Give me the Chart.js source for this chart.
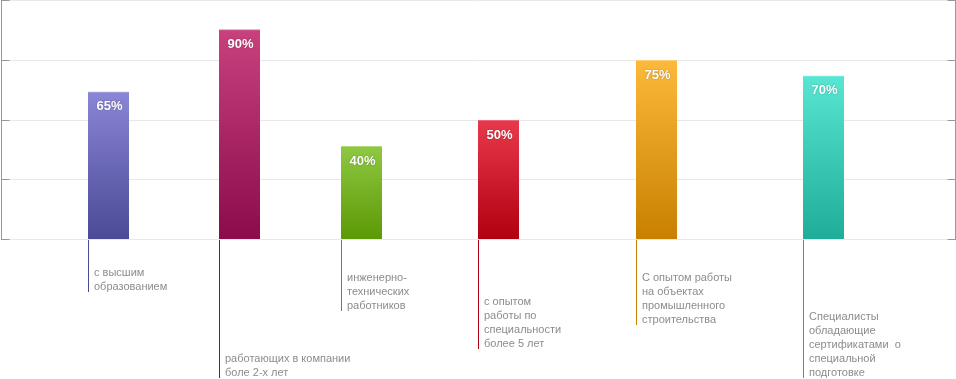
<!DOCTYPE html>
<html><head><meta charset="utf-8">
<script src="https://cdn.jsdelivr.net/npm/chart.js@4/dist/chart.umd.min.js"></script>
<style>html,body{margin:0;padding:0;background:#fff;overflow:hidden}#wrap{width:956px;height:379px;position:relative}</style>
</head><body><div id="wrap"><canvas id="c" width="956" height="379"></canvas></div>
<script>
// ---- data ----
const categories = [
  ["с высшим", "образованием"],
  ["работающих в компании", "боле 2-х лет"],
  ["инженерно-", "технических", "работников"],
  ["с опытом", "работы по", "специальности", "более 5 лет"],
  ["С опытом работы", "на объектах", "промышленного", "строительства"],
  ["Специалисты", "обладающие", "сертификатами  о", "специальной", "подготовке"]
];
const values = [61.8, 87.8, 39, 50, 75, 68.5];          // bar heights as drawn (% of axis)
const valueLabels = ["65%", "90%", "40%", "50%", "75%", "70%"];
const yTicks = [0, 25, 50, 75, 100];

// ---- style / layout ----
const topColors = ["#8a86d6", "#c8417f", "#8fc842", "#e8394c", "#fcb93a", "#58e6d3"];
const bottomColors = ["#4a4a96", "#8b0b4b", "#5b9905", "#b1000f", "#c98000", "#1fac98"];
const highlightColors = ["#aeabe4", "#d97aa6", "#b0d97a", "#ef7884", "#fdcf78", "#8aeee0"];
const slotCenters = [107, 238, 360, 497, 655, 822];      // horizontal slots on the x axis
const leaderDrops = [52, 138, 71, 109, 85, 138];         // leader line length below baseline

function barGradient(ctx) {
  const chart = ctx.chart;
  const i = ctx.dataIndex;
  if (!chart.chartArea || ctx.type !== 'data') return bottomColors[i];
  const y = chart.scales.y;
  const top = y.getPixelForValue(values[i]);
  const bottom = y.getPixelForValue(0);
  const g = chart.ctx.createLinearGradient(0, top, 0, bottom);
  g.addColorStop(0, topColors[i]);
  g.addColorStop(1, bottomColors[i]);
  return g;
}

const decorPlugin = {
  id: 'decor',
  afterDatasetsDraw(chart) {
    const c = chart.ctx;
    const y = chart.scales.y;
    const area = chart.chartArea;
    c.save();
    // inward tick marks on left and right axes
    c.strokeStyle = '#999999';
    c.lineWidth = 1;
    yTicks.forEach(v => {
      const py = Math.floor(y.getPixelForValue(v)) + 0.5;
      c.beginPath();
      c.moveTo(area.left, py); c.lineTo(area.left + 8, py);
      c.moveTo(area.right, py); c.lineTo(area.right - 8, py);
      c.stroke();
    });
    const meta = chart.getDatasetMeta(0);
    const base = y.getPixelForValue(0);
    meta.data.forEach((bar, i) => {
      const left = Math.round(bar.x - bar.width / 2) + 0.5;
      // leader line
      c.strokeStyle = bottomColors[i];
      c.beginPath();
      c.moveTo(left, Math.round(base));
      c.lineTo(left, Math.round(base) + leaderDrops[i]);
      c.stroke();
      // category text
      const lines = categories[i];
      c.fillStyle = '#8c8c8c';
      c.font = "11px 'Liberation Sans', Arial, sans-serif";
      c.textAlign = 'left';
      c.textBaseline = 'middle';
      const lastY = Math.round(base) + leaderDrops[i] - 5.5;
      lines.forEach((t, k) => {
        c.fillText(t, left + 5.5, lastY - (lines.length - 1 - k) * 14);
      });
      // value label
      c.save();
      c.font = "bold 13px 'Liberation Sans', Arial, sans-serif";
      c.textAlign = 'center';
      c.fillStyle = '#ffffff';
      c.shadowColor = 'rgba(0,0,0,0.35)';
      c.shadowBlur = 1.5;
      c.fillText(valueLabels[i], bar.x + 1, bar.y + 15);
      c.restore();
    });
    c.restore();
  }
};

new Chart(document.getElementById('c'), {
  type: 'bar',
  data: {
    datasets: [{
      data: values.map((v, i) => ({ x: slotCenters[i], y: v })),
      backgroundColor: barGradient,
      borderColor: highlightColors,
      borderWidth: { top: 1, left: 0, right: 0, bottom: 0 },
      borderSkipped: 'start',
      barThickness: 41
    }]
  },
  options: {
    responsive: false,
    animation: false,
    devicePixelRatio: 1,
    layout: { padding: { left: 1.5, right: 0.5, top: 0.5, bottom: 139.5 } },
    plugins: { legend: { display: false }, tooltip: { enabled: false } },
    scales: {
      x: { type: 'linear', min: 0, max: 954, offset: false, display: false },
      y: {
        min: 0, max: 100,
        afterBuildTicks: s => { s.ticks = yTicks.map(v => ({ value: v })); },
        ticks: { display: false },
        grid: { color: '#e8e8e8', drawTicks: false },
        border: { display: true, color: '#999999' }
      },
      y2: {
        position: 'right', min: 0, max: 100,
        ticks: { display: false },
        grid: { drawOnChartArea: false, drawTicks: false },
        border: { display: true, color: '#999999' }
      }
    }
  },
  plugins: [decorPlugin]
});
</script>
</body></html>
